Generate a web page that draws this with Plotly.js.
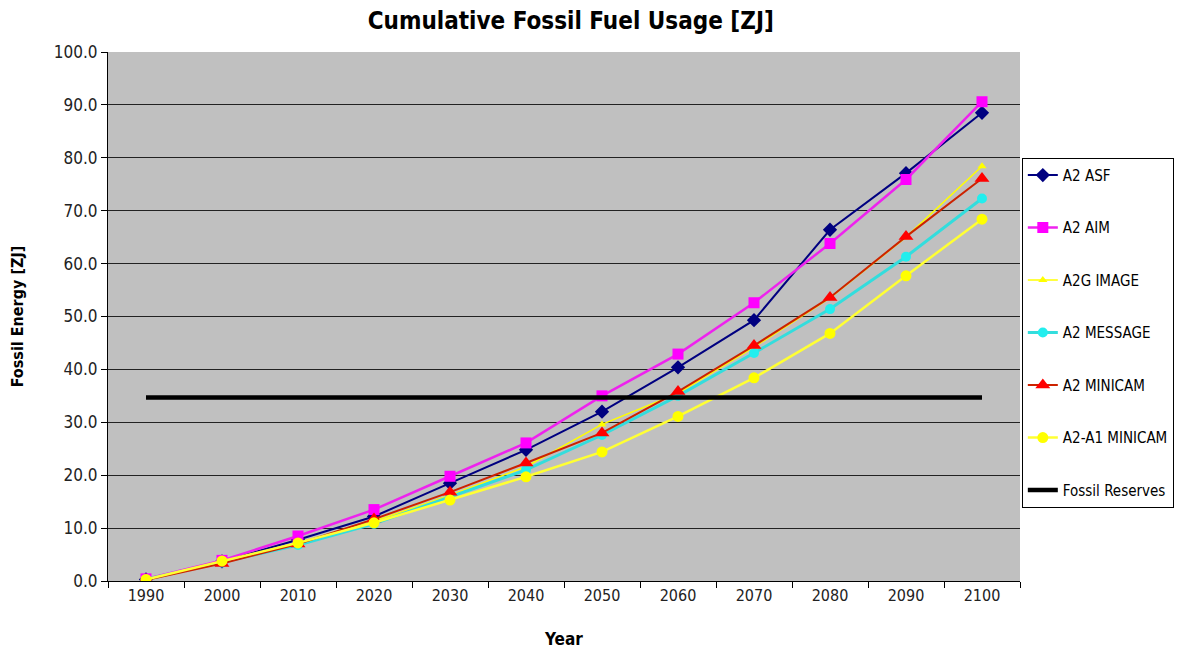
<!DOCTYPE html>
<html>
<head>
<meta charset="utf-8">
<script src="https://cdn.plot.ly/plotly-3.0.1.min.js"></script>
<style>html,body{margin:0;padding:0;background:#fff;}#chart{width:1194px;height:654px;}</style>
</head>
<body>
<div id="chart"></div>
<script>
const years = ["1990","2000","2010","2020","2030","2040","2050","2060","2070","2080","2090","2100"];
const a2Asf      = [0.3, 3.7, 7.8, 12.2, 18.5, 24.8, 32.0, 40.4, 49.3, 66.4, 77.1, 88.5];
const a2Aim      = [0.4, 3.9, 8.5, 13.5, 19.8, 26.1, 35.0, 42.9, 52.6, 63.8, 75.9, 90.6];
const a2gImage   = [0.3, 3.6, 7.0, 11.3, 16.2, 21.6, 29.6, 35.5, 44.2, 53.5, 65.0, 78.4];
const a2Message  = [0.3, 3.5, 6.8, 10.8, 15.9, 21.0, 27.6, 35.0, 43.1, 51.4, 61.3, 72.3];
const a2Minicam  = [0.2, 3.3, 7.0, 11.7, 16.8, 22.3, 28.0, 35.8, 44.5, 53.6, 65.1, 76.1];
const a2a1Minicam= [0.3, 3.8, 7.2, 11.0, 15.3, 19.7, 24.4, 31.1, 38.4, 46.8, 57.7, 68.4];
const reserves   = [34.7, 34.7, 34.7, 34.7, 34.7, 34.7, 34.7, 34.7, 34.7, 34.7, 34.7, 34.7];

const font = "DejaVu Sans Condensed, Liberation Sans Narrow, Arial Narrow, Liberation Sans, sans-serif";
function tr(name, y, color, lineColor, symbol, size, width, grp) {
  return {x: years, y: y, name: name, type: 'scatter', mode: 'lines+markers',
    line: {color: lineColor, width: width},
    marker: {symbol: symbol, size: size, color: color, line: {width: 0}},
    legendgroup: grp};
}
const data = [
  tr('A2 ASF', a2Asf, '#000080', '#000080', 'diamond', 11, 2, 'g1'),
  tr('A2 AIM', a2Aim, '#FF00FF', '#EE22EE', 'square', 11, 2.5, 'g2'),
  tr('A2G IMAGE', a2gImage, '#FFFF00', '#FFFF00', 'triangle-up', 8, 1.5, 'g3'),
  tr('A2 MESSAGE', a2Message, '#22EEEE', '#33DDDD', 'circle', 10, 3, 'g4'),
  tr('A2 MINICAM', a2Minicam, '#FF0000', '#CC2200', 'triangle-up', 13, 2, 'g5'),
  tr('A2-A1 MINICAM', a2a1Minicam, '#FFFF00', '#FFFF33', 'circle', 11, 2.5, 'g6'),
  {x: years, y: reserves, name: 'Fossil Reserves', type: 'scatter', mode: 'lines',
   line: {color: '#000000', width: 4.5}, legendgroup: 'g7'}
];
const layout = {
  width: 1194, height: 654,
  margin: {l: 108, r: 174, t: 52, b: 73},
  paper_bgcolor: '#ffffff', plot_bgcolor: '#C0C0C0',
  title: {text: '<b>Cumulative Fossil Fuel Usage [ZJ]</b>', x: 0.478, xanchor: 'center', y: 0.968, yanchor: 'middle',
          font: {family: font, size: 24, color: '#000'}},
  xaxis: {type: 'category', range: [-0.5, 11.5], showgrid: false, tickson: 'boundaries',
          ticks: 'outside', ticklen: 6, tickcolor: '#000', showline: true, linecolor: '#000', linewidth: 1,
          tickfont: {family: font, size: 16, color: '#222'},
          title: {text: '<b>Year</b>', font: {family: font, size: 17, color: '#000'}, standoff: 28},
          mirror: false, zeroline: false},
  yaxis: {range: [0, 100], dtick: 10, tickformat: '.1f', showgrid: true, gridcolor: '#222', gridwidth: 1,
          ticks: 'outside', ticklen: 6, tickcolor: '#000', showline: true, linecolor: '#000', linewidth: 1,
          tickfont: {family: font, size: 17, color: '#222'}, zeroline: false,
          title: {text: '<b>Fossil Energy [ZJ]</b>', font: {family: font, size: 16, color: '#000'}, standoff: 26}},
  showlegend: true,
  legend: {x: 1.002, xanchor: 'left', y: 0.8, yanchor: 'top', bgcolor: '#ffffff', bordercolor: '#000', borderwidth: 1,
           font: {family: font, size: 15, color: '#000'}, traceorder: 'grouped', tracegroupgap: 30}
};
Plotly.newPlot('chart', data, layout, {displayModeBar: false, staticPlot: true});
</script>
</body>
</html>
